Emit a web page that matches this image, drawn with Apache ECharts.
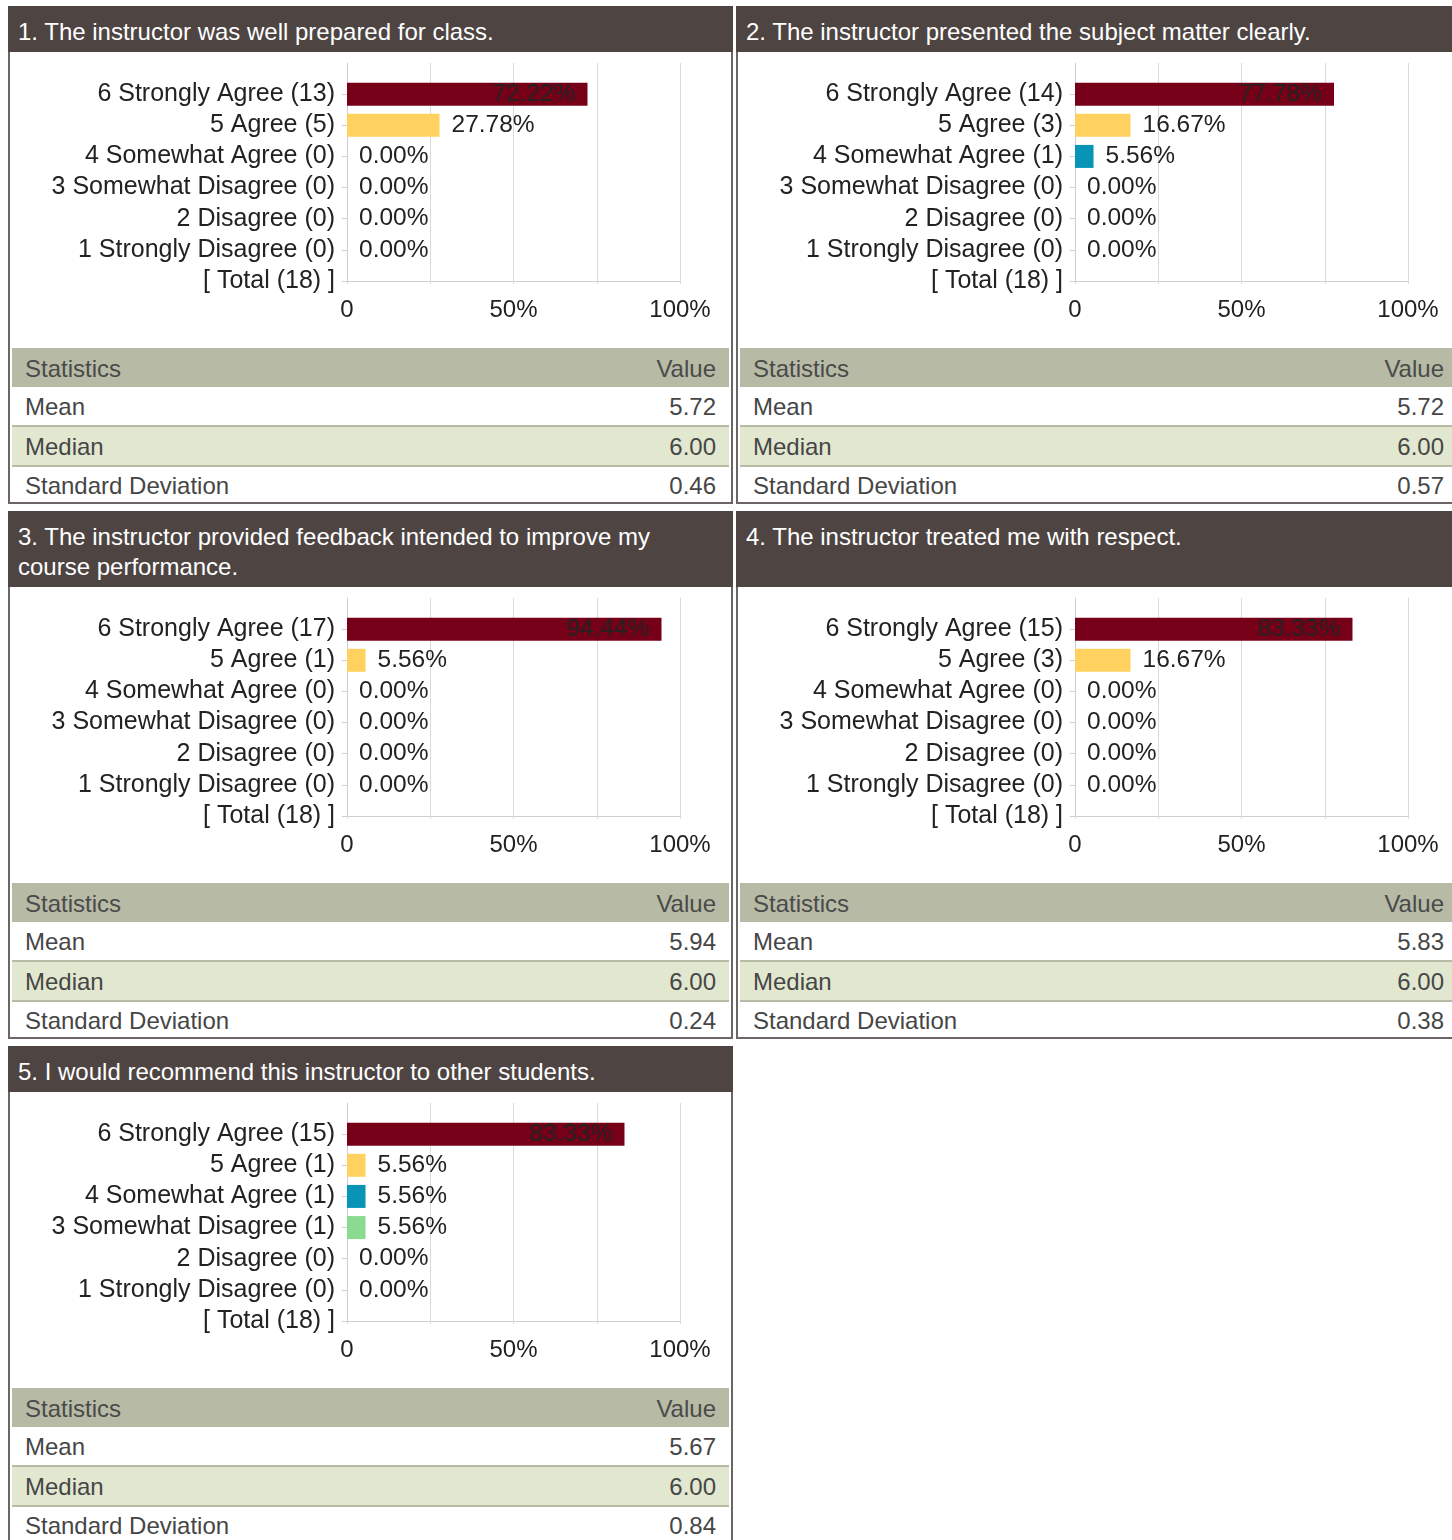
<!DOCTYPE html>
<html>
<head>
<meta charset="utf-8">
<script src="https://cdn.jsdelivr.net/npm/echarts@6/dist/echarts.min.js"></script>
<style>
  html, body { margin: 0; padding: 0; background: #fff; overflow: hidden; }
  body { width: 1452px; height: 1540px; position: relative; font-family: 'Liberation Sans', Arial, sans-serif; }
  #page { position: absolute; left: 8px; top: 6px; display: grid; grid-template-columns: 725px 725px; column-gap: 3px; row-gap: 7px; }
  .panel { display: flex; flex-direction: column; width: 725px; }
  .hdr { flex: 1 1 auto; background: #4e4543; color: #fff; font-size: 24px; line-height: 30px; padding: 11px 10px 5px 10px; box-sizing: border-box; }
  .body { flex: 0 0 auto; height: 452px; box-sizing: border-box; border: 2px solid #6d6563; border-top: none; }
  .chart { width: 721px; height: 296px; }
  table.stats { margin: 0 2px; width: 717px; border-collapse: collapse; font-size: 24px; color: #464646; }
  table.stats td, table.stats th { padding: 2px 13px 0 13px; font-weight: normal; }
  table.stats th { background: #b7baa5; height: 37px; text-align: left; color: #4a4a4a; }
  table.stats th.v, table.stats td.v { text-align: right; }
  table.stats tr.r0 td { height: 36px; border-bottom: 2px solid #b7baa5; background: #fff; }
  table.stats tr.r1 td { height: 36px; border-bottom: 2px solid #b7baa5; background: #e2e8d0; }
  table.stats tr.r2 td { height: 33px; background: #fff; }
</style>
</head>
<body>
<div id="page"></div>
<script>
// ---- data ----
const levelNames = ['6 Strongly Agree', '5 Agree', '4 Somewhat Agree', '3 Somewhat Disagree', '2 Disagree', '1 Strongly Disagree'];
const questions = [
  '1. The instructor was well prepared for class.',
  '2. The instructor presented the subject matter clearly.',
  '3. The instructor provided feedback intended to improve my course performance.',
  '4. The instructor treated me with respect.',
  '5. I would recommend this instructor to other students.'
];
const q1Counts = [13, 5, 0, 0, 0, 0];
const q1Pct    = [72.22, 27.78, 0, 0, 0, 0];
const q2Counts = [14, 3, 1, 0, 0, 0];
const q2Pct    = [77.78, 16.67, 5.56, 0, 0, 0];
const q3Counts = [17, 1, 0, 0, 0, 0];
const q3Pct    = [94.44, 5.56, 0, 0, 0, 0];
const q4Counts = [15, 3, 0, 0, 0, 0];
const q4Pct    = [83.33, 16.67, 0, 0, 0, 0];
const q5Counts = [15, 1, 1, 1, 0, 0];
const q5Pct    = [83.33, 5.56, 5.56, 5.56, 0, 0];
const totals   = [18, 18, 18, 18, 18];
const xTickValues = [0, 50, 100];
const xTickLabels = ['0', '50%', '100%'];
const statNames = ['Mean', 'Median', 'Standard Deviation'];
const means   = ['5.72', '5.72', '5.94', '5.83', '5.67'];
const medians = ['6.00', '6.00', '6.00', '6.00', '6.00'];
const sds     = ['0.46', '0.57', '0.24', '0.38', '0.84'];

// ---- styling ----
const levelColors = ['#770019', '#ffd25f', '#0894b7', '#8bda91', '#b05a2a', '#555555'];
const FONT = "'Liberation Sans', Arial, sans-serif";
const allCounts = [q1Counts, q2Counts, q3Counts, q4Counts, q5Counts];
const allPct = [q1Pct, q2Pct, q3Pct, q4Pct, q5Pct];
const statValues = [means, medians, sds];

const page = document.getElementById('page');
questions.forEach((q, qi) => {
  const panel = document.createElement('div');
  panel.className = 'panel';
  const hdr = document.createElement('div');
  hdr.className = 'hdr';
  hdr.textContent = q;
  const body = document.createElement('div');
  body.className = 'body';
  const chartDiv = document.createElement('div');
  chartDiv.className = 'chart';
  body.appendChild(chartDiv);
  const tbl = document.createElement('table');
  tbl.className = 'stats';
  let html = '<tr><th>Statistics</th><th class="v">Value</th></tr>';
  statNames.forEach((s, si) => {
    html += '<tr class="r' + si + '"><td>' + s + '</td><td class="v">' + statValues[si][qi] + '</td></tr>';
  });
  tbl.innerHTML = html;
  body.appendChild(tbl);
  panel.appendChild(hdr);
  panel.appendChild(body);
  page.appendChild(panel);

  const counts = allCounts[qi];
  const pct = allPct[qi];
  const cats = [''].concat(levelNames.map((n, i) => n + ' (' + counts[i] + ')'), ['[ Total (' + totals[qi] + ') ]']);
  const barData = [null].concat(pct.map((v, i) => ({
    value: v,
    itemStyle: { color: levelColors[i] },
    label: { position: v >= 50 ? 'insideRight' : 'right' }
  })), [null]);

  const chart = echarts.init(chartDiv, null, { renderer: 'canvas' });
  chart.setOption({
    animation: false,
    textStyle: { fontFamily: FONT },
    grid: { left: 337, top: 11, width: 333, height: 218, containLabel: false },
    xAxis: {
      type: 'value', min: 0, max: 100, interval: 25,
      axisLine: { show: true, lineStyle: { color: '#cfcfcf', width: 1 } },
      axisTick: { show: true, length: 3, lineStyle: { color: '#dadada' } },
      splitLine: { show: true, lineStyle: { color: '#dadada', width: 1 } },
      axisLabel: {
        fontSize: 24, color: '#222', margin: 17, fontFamily: FONT,
        formatter: v => { const k = xTickValues.indexOf(v); return k >= 0 ? xTickLabels[k] : ''; }
      }
    },
    yAxis: {
      type: 'category', inverse: true, boundaryGap: false, data: cats,
      axisLine: { show: true, lineStyle: { color: '#cfcfcf', width: 1 } },
      axisTick: { show: true, length: 5, interval: (idx) => idx !== 0, lineStyle: { color: '#cfcfcf' } },
      axisLabel: { interval: 0, fontSize: 25, color: '#222', margin: 12, fontFamily: FONT }
    },
    series: [{
      type: 'bar', barWidth: 23, data: barData,
      label: {
        show: true, distance: 12, fontSize: 24.5, color: '#222', fontFamily: FONT,
        formatter: p => p.value.toFixed(2) + '%'
      }
    }]
  });
});
</script>
</body>
</html>
